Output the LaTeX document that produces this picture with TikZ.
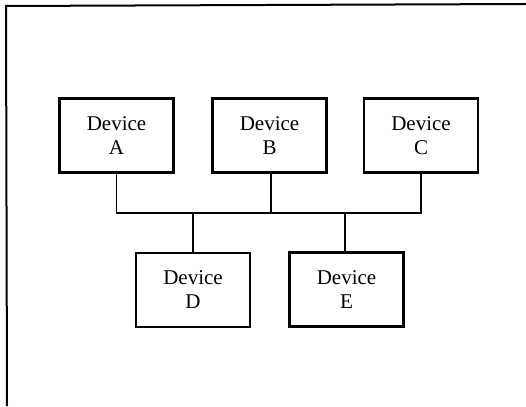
\documentclass[tikz,border=0pt]{standalone}
\usepackage{fontspec}
\setmainfont{Liberation Serif}
\begin{document}
\begin{tikzpicture}[x=1pt,y=-1pt,
  devbox/.style={draw,line width=2.6pt,rectangle,minimum width=114pt,minimum height=74pt,inner sep=0pt,align=center,font=\fontsize{21}{24}\selectfont},
  wire/.style={line width=1.3pt},
  frameline/.style={line width=2pt}]
\useasboundingbox (0,0) rectangle (526,406);
\fill[white] (0,0) rectangle (526,406);
\coordinate (fbl) at (7,406);
\coordinate (ftl) at (6,6);
\coordinate (ftr) at (526,4);
\draw[frameline] (fbl) -- (ftl) -- (ftr);
\node[devbox] (A) at (116.5,135.5) {Device\\A};
\node[devbox] (B) at (269.5,135.5) {Device\\B};
\node[devbox] (C) at (421,135.5) {Device\\C};
\node[devbox] (D) at (193,290) {Device\\D};
\node[devbox] (E) at (346.5,289.5) {Device\\E};
\coordinate (bus) at (0,213);
\draw[wire] (A.south) -- (A.south |- bus) -- (C.south |- bus) -- (C.south);
\draw[wire] ([xshift=1.5pt]B.south) -- ([xshift=1.5pt]B.south |- bus);
\draw[wire] (D.north) -- (D.north |- bus);
\draw[wire] ([xshift=-1.5pt]E.north) -- ([xshift=-1.5pt]E.north |- bus);
\end{tikzpicture}
\end{document}
